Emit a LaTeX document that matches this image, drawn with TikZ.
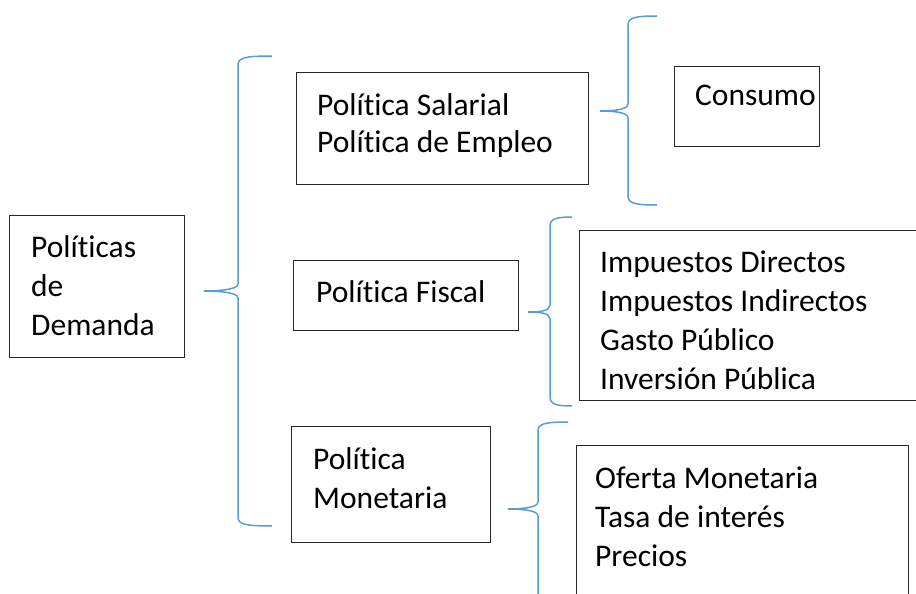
\documentclass[tikz,border=0pt]{standalone}
\usepackage{fontspec}
\setmainfont{Carlito}[Ligatures={NoCommon,NoContextual}]
\usepackage{tikz}

\definecolor{azulllave}{RGB}{91,155,213}
\newcommand{\alto}{\rule{0pt}{27pt}}
% llave: punta x, linea x, extremo x, arriba, medio, abajo, nombre de la punta
\newcommand{\llave}[7]{%
  \draw[llave] (#3,#4) .. controls (#2+6,#4) and (#2,#4+2) .. (#2,#4+9)
    -- (#2,#5-7) .. controls (#2,#5-1) and (#1+12,#5) .. (#1,#5) coordinate (#7)
    .. controls (#1+12,#5) and (#2,#5+1) .. (#2,#5+7)
    -- (#2,#6-9) .. controls (#2,#6-2) and (#2+6,#6) .. (#3,#6);}

\tikzset{
  caja/.style={draw=black!85, line width=1.2pt, inner sep=0pt, anchor=north west},
  texto/.style={inner sep=0pt, anchor=north west, align=left, font=\fontsize{31.5}{39}\selectfont},
  llave/.style={draw=azulllave, line width=1.5pt},
}

\begin{document}
\begin{tikzpicture}[x=1pt,y=-1pt]
      \useasboundingbox (0,0) rectangle (916,594);
      \clip (0,0) rectangle (916,594);
      % cajas
      \node[caja, minimum width=175pt, minimum height=142pt] (dem) at (9,215) {};
      \node[caja, minimum width=292pt, minimum height=112pt] (sal) at (296,72) {};
      \node[caja, minimum width=145pt, minimum height=80pt] (con) at (674,66) {};
      \node[caja, minimum width=225pt, minimum height=70pt] (fis) at (293,260) {};
      \node[caja, minimum width=400pt, minimum height=170pt] (imp) at (579,230) {};
      \node[caja, minimum width=332pt, minimum height=180pt] (ofe) at (576,445) {};
      \node[caja, minimum width=199pt, minimum height=116pt] (mon) at (291,426) {};
      % textos
      \node[texto] (demt) at (31,230) {\alto Políticas\\de\\Demanda};
      \node[texto, font=\fontsize{31.5}{37}\selectfont] (salt) at (317,88) {\alto Política Salarial\\Política de Empleo};
      \node[texto] (cont) at (695,78) {\alto Consumo};
      \node[texto] (fist) at (316,275) {\alto Política Fiscal};
      \node[texto] (impt) at (600,245) {\alto Impuestos Directos\\Impuestos Indirectos\\Gasto Público\\Inversión Pública};
      \node[texto] (mont) at (313,442) {\alto Política\\Monetaria};
      \node[texto] (ofet) at (595,461) {\alto Oferta Monetaria\\Tasa de interés\\Precios};
      % llaves
      \llave{204}{238}{272}{56}{291}{526}{ll1}
      \llave{600}{628}{657}{16}{111}{205}{ll2}
      \llave{528}{550}{572}{217}{312}{406}{ll3}
      \llave{508}{538}{568}{422}{509}{640}{ll4}
\end{tikzpicture}
\end{document}
